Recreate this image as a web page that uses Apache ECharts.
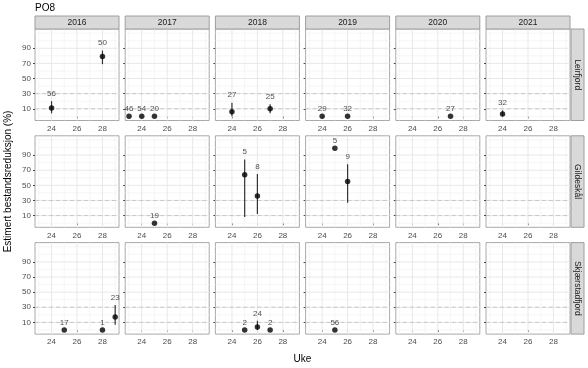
<!DOCTYPE html>
<html><head><meta charset="utf-8">
<script src="https://cdn.jsdelivr.net/npm/echarts@6/dist/echarts.min.js"></script>
<style>html,body{margin:0;padding:0;background:#fff}#c{width:588px;height:368px}</style>
</head><body><div id="c"></div>
<script>
// ---- categories & ticks ----
const years = ['2016','2017','2018','2019','2020','2021'];
const sites = ['Leirfjord','Gildeskål','Skjærstadfjord'];
const xTicks = [24,26,28];
const xMinor = [23,25,27,29];
const yTicks = [10,30,50,70,90];
const yMinor = [0,20,40,60,80,100,110];
const refLines = [10,30];
// ---- observations (one entry per point) ----
const obsSite = [0,0, 0,0,0, 0,0, 0,0, 0, 0, 1, 1,1, 1,1, 2,2,2, 2,2,2, 2];
const obsYear = [0,0, 1,1,1, 2,2, 3,3, 4, 5, 1, 2,2, 3,3, 0,0,0, 2,2,2, 3];
const obsWeek = [24,28, 23,24,25, 24,27, 24,26, 27, 24, 25, 25,26, 25,26, 25,28,29, 25,26,27, 25];
const obsEst  = [11,79, 0,0,0, 6,10, 0,0, 0, 3, 0, 64,36, 99,55, 0,0,17, 0,4,0, 0];
const obsLo   = [4,69, 0,0,0, 0,4, 0,0, 0, 0, 0, 8,12, 99,27, 0,0,7, 0,0,0, 0];
const obsHi   = [20,87, 0,0,0, 18,16, 0,0, 0, 8, 0, 84,65, 99,78, 0,0,33, 0,12,0, 0];
const obsN    = [56,50, 46,54,20, 27,25, 29,32, 27, 32, 19, 5,8, 5,9, 17,1,23, 2,24,2, 56];
const labelGap = 10;

// ---- layout ----
const colLeft = [35,125.2,215.4,305.6,395.8,486];
const panelW = 84;
const rowTop = [29,135.8,242.6];
const panelH = 91.5;
const xMin = 22.7, xMax = 29.3, yMin = -5.5, yMax = 115.5;
const FONT = 'Liberation Sans, Arial, sans-serif';

const grids = [], xAxes = [], yAxes = [], series = [], graphics = [];
let gi = 0;
for (let r = 0; r < sites.length; r++) {
  for (let c = 0; c < years.length; c++) {
    grids.push({left: colLeft[c], top: rowTop[r], width: panelW, height: panelH,
      show: true, borderColor: '#a8a8a8', borderWidth: 1, backgroundColor: '#fff', containLabel: false});
    xAxes.push({gridIndex: gi, type: 'value', min: xMin, max: xMax,
      axisLine: {show: false}, splitLine: {show: false},
      axisTick: {show: true, customValues: xTicks, length: 2, lineStyle: {color: '#444', width: 1}},
      axisLabel: {show: true, customValues: xTicks, color: '#4d4d4d', fontSize: 8, margin: 4, fontFamily: FONT}});
    yAxes.push({gridIndex: gi, type: 'value', min: yMin, max: yMax,
      axisLine: {show: false}, splitLine: {show: false},
      axisTick: {show: true, customValues: yTicks, length: 2, lineStyle: {color: '#444', width: 1}},
      axisLabel: {show: c === 0, customValues: yTicks, color: '#4d4d4d', fontSize: 8, margin: 4, fontFamily: FONT}});
    // grid lines
    const gl = [];
    xMinor.forEach(v => gl.push([0, v]));
    yMinor.forEach(v => gl.push([2, v]));
    xTicks.forEach(v => gl.push([1, v]));
    yTicks.forEach(v => gl.push([3, v]));
    refLines.forEach(v => gl.push([4, v]));
    series.push({type: 'custom', xAxisIndex: gi, yAxisIndex: gi, silent: true, z: 1,
      data: gl,
      renderItem: function (params, api) {
        const kind = api.value(0), v = api.value(1);
        const cs = params.coordSys;
        let shape, style;
        if (kind <= 1) {
          const p = api.coord([v, 50]);
          shape = {x1: p[0], y1: cs.y, x2: p[0], y2: cs.y + cs.height};
        } else {
          const p = api.coord([25, v]);
          shape = {x1: cs.x, y1: p[1], x2: cs.x + cs.width, y2: p[1]};
        }
        if (kind === 0 || kind === 2) style = {stroke: '#f2f2f2', lineWidth: 0.7};
        else if (kind === 1 || kind === 3) style = {stroke: '#e8e8e8', lineWidth: 1};
        else style = {stroke: '#c4c4c4', lineWidth: 0.9, lineDash: [4, 3]};
        return {type: 'line', shape: shape, style: style};
      }});
    // data for this panel
    const pts = [], bars = [], labs = [];
    for (let i = 0; i < obsWeek.length; i++) {
      if (obsSite[i] === r && obsYear[i] === c) {
        pts.push([obsWeek[i], obsEst[i]]);
        if (obsHi[i] > obsLo[i]) bars.push([obsWeek[i], obsLo[i], obsHi[i]]);
        labs.push([obsWeek[i], obsHi[i] + labelGap, obsN[i]]);
      }
    }
    series.push({type: 'custom', xAxisIndex: gi, yAxisIndex: gi, silent: true, z: 3,
      data: bars,
      renderItem: function (params, api) {
        const a = api.coord([api.value(0), api.value(1)]);
        const b = api.coord([api.value(0), api.value(2)]);
        return {type: 'line', shape: {x1: a[0], y1: a[1], x2: b[0], y2: b[1]},
          style: {stroke: '#333', lineWidth: 1.2}};
      }});
    series.push({type: 'scatter', xAxisIndex: gi, yAxisIndex: gi, silent: true, z: 4,
      symbolSize: 5.5, itemStyle: {color: '#000'}, data: pts});
    series.push({type: 'scatter', xAxisIndex: gi, yAxisIndex: gi, silent: true, z: 5,
      symbolSize: 2, itemStyle: {color: 'rgba(0,0,0,0)'}, data: labs,
      label: {show: true, position: 'inside', formatter: p => String(p.data[2]),
        color: '#222', fontSize: 8, fontFamily: FONT}});
    gi++;
  }
}
// strips
years.forEach((y, c) => {
  graphics.push({type: 'rect', shape: {x: colLeft[c], y: 16, width: panelW, height: 13},
    style: {fill: '#d9d9d9', stroke: '#9e9e9e', lineWidth: 1}, z: 10});
  graphics.push({type: 'text', x: colLeft[c] + panelW / 2, y: 22.5,
    style: {text: y, fill: '#1a1a1a', font: '8.5px ' + FONT, align: 'center', verticalAlign: 'middle'}, z: 11});
});
sites.forEach((s, r) => {
  graphics.push({type: 'rect', shape: {x: 571, y: rowTop[r], width: 13, height: panelH},
    style: {fill: '#d9d9d9', stroke: '#9e9e9e', lineWidth: 1}, z: 10});
  graphics.push({type: 'text', x: 577.5, y: rowTop[r] + panelH / 2, rotation: -Math.PI / 2,
    style: {text: s, fill: '#1a1a1a', font: '8.5px ' + FONT, align: 'center', verticalAlign: 'middle'}, z: 11});
});
graphics.push({type: 'text', x: 35, y: 8,
  style: {text: 'PO8', fill: '#000', font: '10px ' + FONT, align: 'left', verticalAlign: 'middle'}});
graphics.push({type: 'text', x: 302.5, y: 359,
  style: {text: 'Uke', fill: '#000', font: '10px ' + FONT, align: 'center', verticalAlign: 'middle'}});
graphics.push({type: 'text', x: 8, y: 181.5, rotation: Math.PI / 2,
  style: {text: 'Estimert bestandsreduksjon (%)', fill: '#000', font: '10px ' + FONT, align: 'center', verticalAlign: 'middle'}});

const chart = echarts.init(document.getElementById('c'), null, {renderer: 'canvas'});
chart.setOption({animation: false, grid: grids, xAxis: xAxes, yAxis: yAxes, series: series, graphic: graphics});
</script></body></html>
